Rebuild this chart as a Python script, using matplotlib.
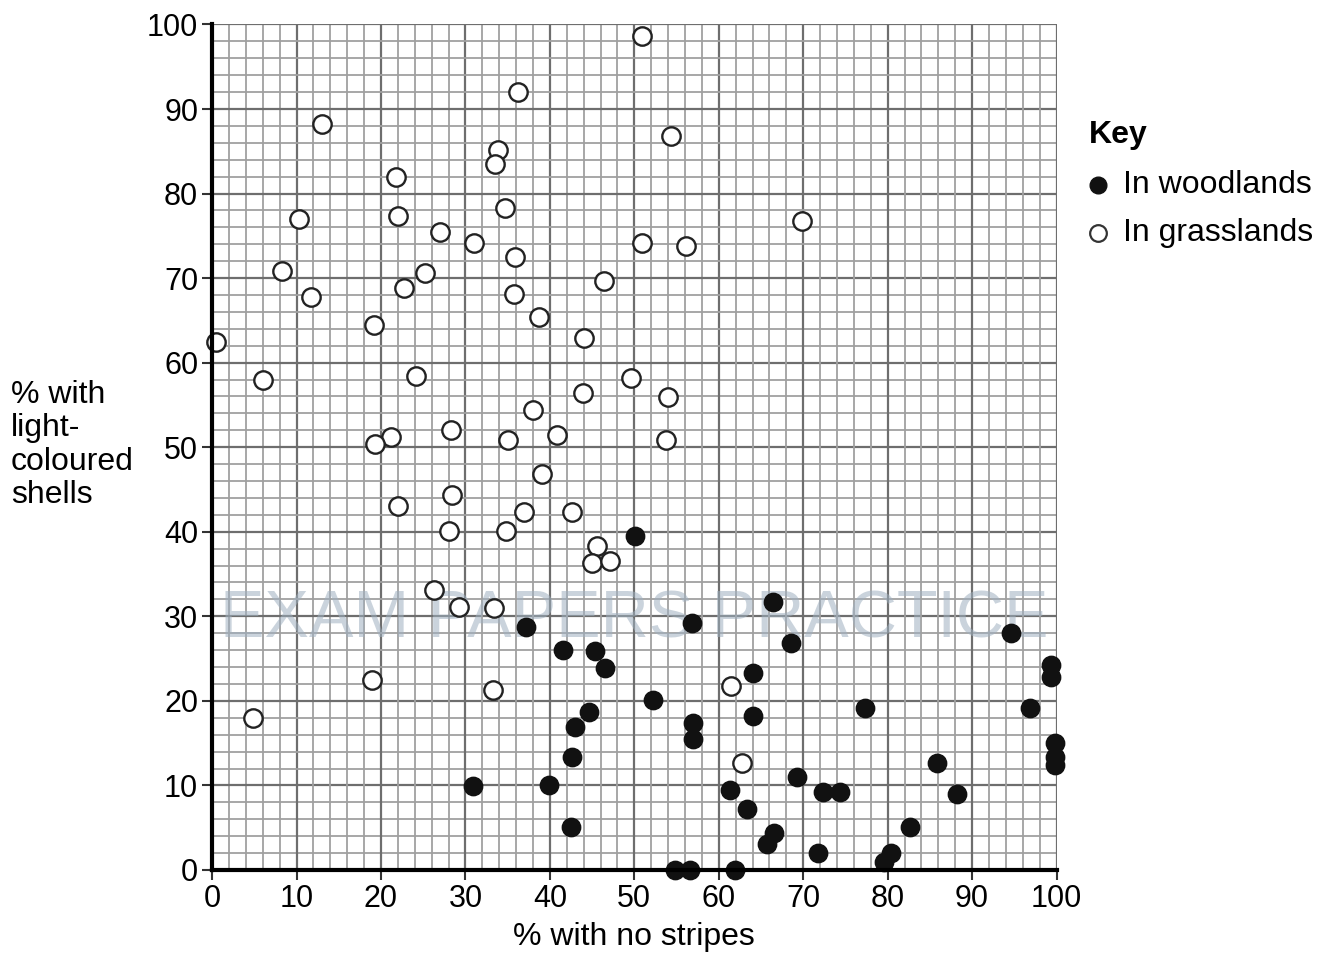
import numpy as np
import matplotlib
matplotlib.use("Agg")
import matplotlib.pyplot as plt

plt.rcParams['font.family'] = ['Liberation Sans', 'DejaVu Sans']

# woodland snails (filled)
wood_x = [50.1, 37.2, 41.5, 45.3, 46.5, 56.8, 66.4, 68.6, 94.6, 64.1, 99.4, 99.4,
          52.2, 77.3, 96.9, 44.6, 64.0, 43.0, 56.9, 56.9, 42.6, 99.8, 99.8, 99.8,
          85.9, 69.3, 61.3, 72.3, 74.4, 88.2, 63.3, 30.9, 39.9, 42.5, 82.7, 66.6,
          65.7, 71.7, 80.4, 79.6, 54.8, 56.6, 61.9]
wood_y = [39.5, 28.7, 26.0, 25.9, 23.9, 29.2, 31.7, 26.8, 28.0, 23.3, 24.2, 22.8,
          20.1, 19.1, 19.1, 18.7, 18.2, 16.9, 17.4, 15.5, 13.4, 15.0, 13.4, 12.4,
          12.6, 11.0, 9.5, 9.2, 9.2, 9.0, 7.2, 9.9, 10.0, 5.1, 5.1, 4.4,
          3.1, 2.0, 2.0, 0.9, 0.0, 0.0, 0.0]

# grassland snails (open)
grass_x = [50.9, 36.2, 13.0, 54.4, 33.8, 33.5, 21.8, 10.3, 22.0, 34.7, 69.9, 27.0,
           31.0, 50.9, 56.1, 35.9, 8.3, 25.2, 22.7, 11.7, 35.7, 46.4, 38.7, 19.2,
           0.5, 44.1, 6.0, 24.1, 49.6, 43.9, 54.0, 38.0, 28.3, 21.2, 19.3, 40.8,
           35.1, 53.8, 39.1, 28.4, 22.0, 36.9, 42.6, 28.0, 34.8, 45.6, 45.0, 47.1,
           26.3, 29.2, 33.4, 18.9, 33.3, 4.9, 61.5, 62.8]
grass_y = [98.6, 92.0, 88.2, 86.8, 85.2, 83.5, 82.0, 77.0, 77.3, 78.3, 76.7, 75.5,
           74.1, 74.1, 73.8, 72.5, 70.9, 70.6, 68.8, 67.8, 68.1, 69.6, 65.4, 64.4,
           62.5, 62.9, 58.0, 58.4, 58.2, 56.4, 55.9, 54.4, 52.0, 51.2, 50.4, 51.5,
           50.8, 50.9, 46.8, 44.4, 43.0, 42.3, 42.3, 40.1, 40.1, 38.3, 36.3, 36.6,
           33.1, 31.1, 31.0, 22.5, 21.3, 18.0, 21.7, 12.6]

ticks = list(range(0, 101, 10))

fig = plt.figure(figsize=(13.34, 9.63), dpi=100)
ax = fig.add_axes([0.159, 0.0966, 0.633, 0.878])

# graph paper
for v in np.arange(0, 101, 2):
    major = v % 10 == 0
    c = '#6e6e6e' if major else '#a0a0a0'
    lw = 1.6 if major else 1.3
    ax.axvline(v, color=c, lw=lw, zorder=1)
    ax.axhline(v, color=c, lw=lw, zorder=1)

# faint watermark text (kept inside the plot area)
ax.text(50, 29.5, 'EXAM PAPERS PRACTICE', fontsize=48, color='#9fb0c0', alpha=0.55,
        ha='center', va='center', zorder=2)

ax.scatter(grass_x, grass_y, s=175, facecolors='white', edgecolors='#222222',
           linewidths=1.7, zorder=3, clip_on=False)
ax.scatter(wood_x, wood_y, s=175, color='#111111', zorder=4, clip_on=False)

ax.set_xlim(0, 100)
ax.set_ylim(0, 100)
ax.set_xticks(ticks)
ax.set_yticks(ticks)
ax.tick_params(labelsize=22, length=7, width=1.5, color='#333333', pad=3)
for s in ['top', 'right']:
    ax.spines[s].set_visible(False)
for s in ['left', 'bottom']:
    ax.spines[s].set_linewidth(3)
    ax.spines[s].set_color('black')
    ax.spines[s].set_zorder(5)

ax.set_xlabel('% with no stripes', fontsize=23, labelpad=6)
fig.text(0.008, 0.538, '% with\nlight-\ncoloured\nshells', fontsize=23,
         ha='left', va='center', linespacing=1.15)

# key
fig.text(0.816, 0.86, 'Key', fontsize=23, fontweight='bold', va='center')
fig.lines.append(plt.Line2D([0.823], [0.808], marker='o', markersize=12,
                            color='#111111', transform=fig.transFigure))
fig.text(0.842, 0.808, 'In woodlands', fontsize=23, va='center')
fig.lines.append(plt.Line2D([0.823], [0.758], marker='o', markersize=12,
                            markerfacecolor='white', markeredgecolor='#333333',
                            markeredgewidth=1.6, transform=fig.transFigure))
fig.text(0.842, 0.758, 'In grasslands', fontsize=23, va='center')

fig.savefig('out.png', dpi=100)
